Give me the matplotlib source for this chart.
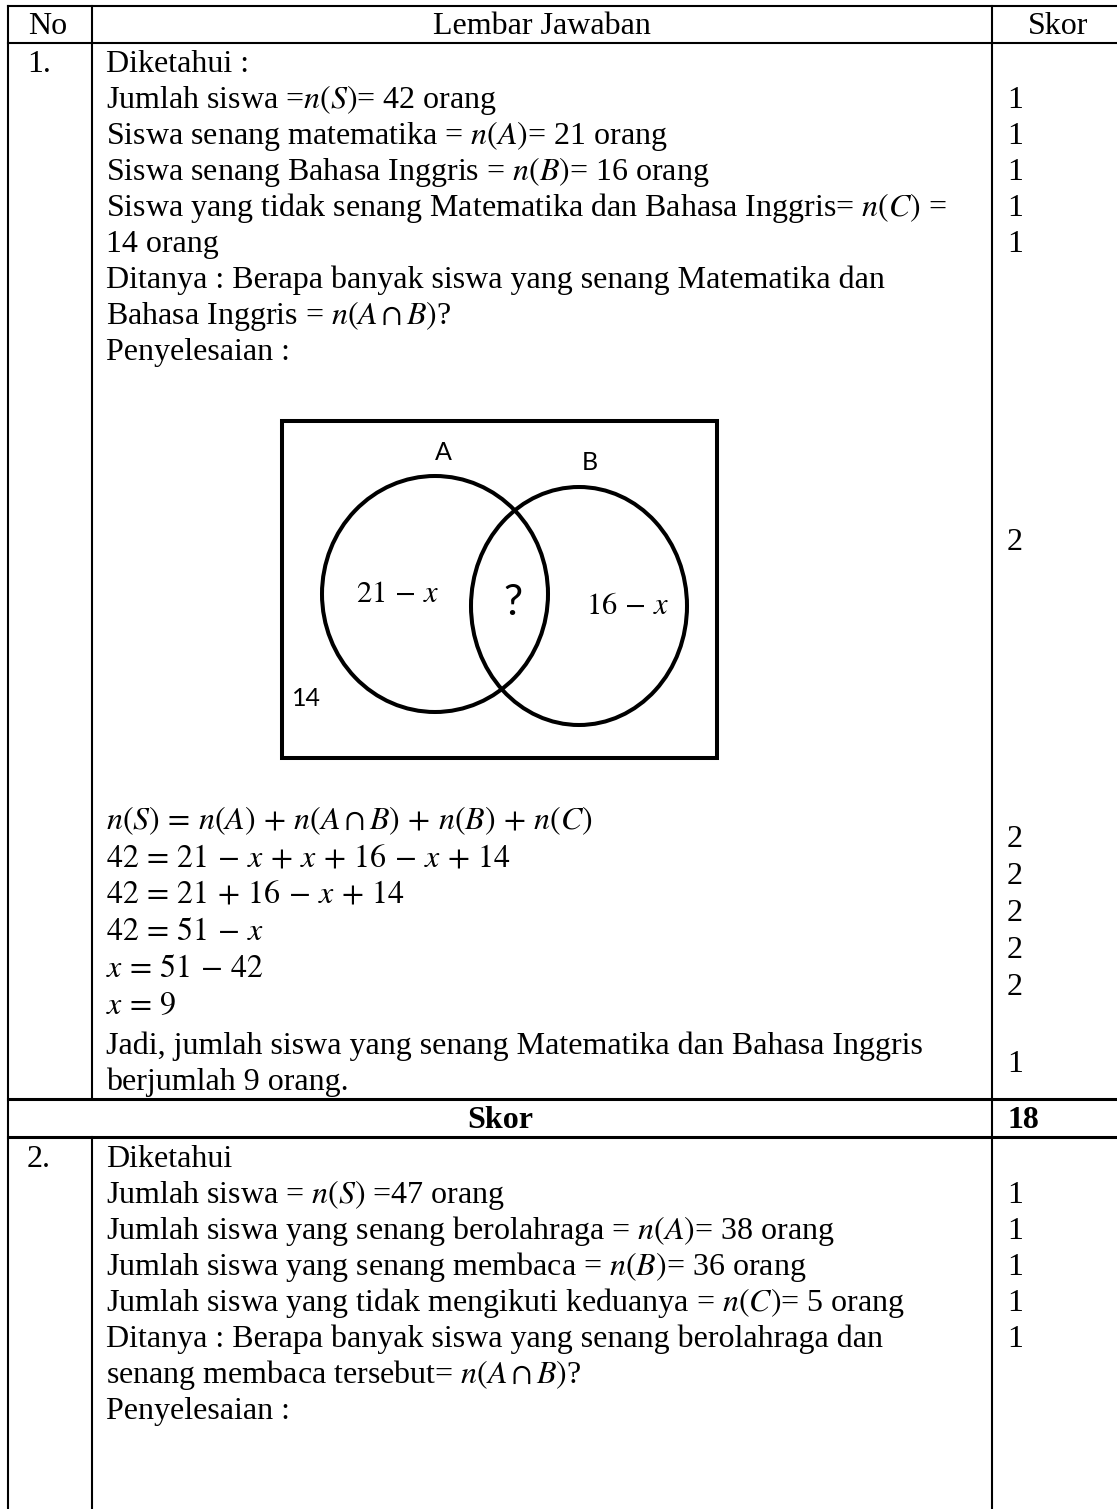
import matplotlib
matplotlib.use('Agg')
import matplotlib.pyplot as plt
from matplotlib.patches import Ellipse, Rectangle

plt.rcParams['mathtext.fontset'] = 'stix'
plt.rcParams['font.family'] = ['Liberation Serif', 'DejaVu Serif']

# table content
header = ['No', 'Lembar Jawaban', 'Skor']

q1_known = ['Diketahui :',
            r'Jumlah siswa =$n(S)$= 42 orang',
            r'Siswa senang matematika = $n(A)$= 21 orang',
            r'Siswa senang Bahasa Inggris = $n(B)$= 16 orang',
            r'Siswa yang tidak senang Matematika dan Bahasa Inggris= $n(C)$ =',
            '14 orang',
            'Ditanya : Berapa banyak siswa yang senang Matematika dan',
            r'Bahasa Inggris = $n(A \cap B)$?',
            'Penyelesaian :']
q1_known_scores = [None, 1, 1, 1, 1, 1, None, None, None]
q1_venn_score = 2

venn_sets = ['A', 'B']
venn_regions = [r'$21 - x$', '?', r'$16 - x$']
venn_outside = '14'

q1_steps = [r'$n(S) = n(A) + n(A \cap B) + n(B) + n(C)$',
            r'$42 = 21 - x + x + 16 - x + 14$',
            r'$42 = 21 + 16 - x + 14$',
            r'$42 = 51 - x$',
            r'$x = 51 - 42$',
            r'$x = 9$']
q1_step_scores = [2, 2, 2, 2, 2]
q1_conclusion = ['Jadi, jumlah siswa yang senang Matematika dan Bahasa Inggris',
                 'berjumlah 9 orang.']
q1_conclusion_score = 1
q1_total = 18

q2_known = ['Diketahui',
            r'Jumlah siswa = $n(S)$ =47 orang',
            r'Jumlah siswa yang senang berolahraga = $n(A)$= 38 orang',
            r'Jumlah siswa yang senang membaca = $n(B)$= 36 orang',
            r'Jumlah siswa yang tidak mengikuti keduanya = $n(C)$= 5 orang',
            'Ditanya : Berapa banyak siswa yang senang berolahraga dan',
            r'senang membaca tersebut= $n(A \cap B)$?',
            'Penyelesaian :']
q2_known_scores = [None, 1, 1, 1, 1, 1, None, None]


def spaced(s):
    # wider operator spacing, closer to Cambria Math
    for op in ('=', '+', '-'):
        s = s.replace(' %s ' % op, r'\,%s\,' % op)
    return s


W, H = 1117, 1509
fig = plt.figure(figsize=(W / 100, H / 100), dpi=100)
ax = fig.add_axes([0, 0, 1, 1])
ax.set_xlim(0, W)
ax.set_ylim(H, 0)
ax.axis('off')

fs = 23
line_h = 36
x_no, x_txt, x_sc = 27, 106, 1007
c1, c2 = 92, 992
left = 8
top, head_bot = 6, 43
skor_top, skor_bot = 1099, 1137

# grid lines
lw = 1.5
for y in (top, head_bot):
    ax.plot([left, W], [y, y], color='black', lw=lw)
for y in (skor_top, skor_bot):
    ax.plot([left, W], [y, y], color='black', lw=2.2)
ax.plot([left, left], [top, H], color='black', lw=lw)
ax.plot([c2, c2], [top, H], color='black', lw=lw)
ax.plot([c1, c1], [top, skor_top], color='black', lw=lw)
ax.plot([c1, c1], [skor_bot, H], color='black', lw=lw)

# header
ax.text(48, 34, header[0], fontsize=fs, ha='center', va='baseline')
ax.text((c1 + c2) / 2, 34, header[1], fontsize=fs, ha='center', va='baseline')
ax.text(1058, 34, header[2], fontsize=fs, ha='center', va='baseline')

# question 1
ax.text(x_no, 72, '1.', fontsize=fs, va='baseline')
for i, (line, sc) in enumerate(zip(q1_known, q1_known_scores)):
    y = 72 + i * line_h
    ax.text(x_txt, y, line, fontsize=fs, va='baseline')
    if sc is not None:
        ax.text(x_sc, y, str(sc), fontsize=fs, va='baseline')

# venn diagram
ax.add_patch(Rectangle((282, 421), 435, 337, fill=False, lw=2.9,
                       ec='black', joinstyle='miter'))
ax.add_patch(Ellipse((435, 594), 226, 236, fill=False, lw=2.9, ec='black'))
ax.add_patch(Ellipse((579, 606), 216, 238, fill=False, lw=2.9, ec='black'))
ax.text(443, 453, venn_sets[0], fontsize=18, family='Lato', ha='center', va='center')
ax.text(590, 462, venn_sets[1], fontsize=18, family='Lato', ha='center', va='center')
ax.text(398, 595, spaced(venn_regions[0]), fontsize=22, ha='center', va='center')
ax.text(513, 603, venn_regions[1], fontsize=31, family='Lato', ha='center', va='center')
ax.text(628, 607, spaced(venn_regions[2]), fontsize=22, ha='center', va='center')
ax.text(306, 698, venn_outside, fontsize=18, family='Lato', ha='center', va='center')
ax.text(x_sc, 550, str(q1_venn_score), fontsize=fs, va='baseline')

step_h = 37
for i, line in enumerate(q1_steps):
    ax.text(x_txt, 829 + i * step_h, spaced(line), fontsize=fs, va='baseline')
for i, sc in enumerate(q1_step_scores):
    ax.text(x_sc, 847 + i * step_h, str(sc), fontsize=fs, va='baseline')
for i, line in enumerate(q1_conclusion):
    ax.text(x_txt, 1054 + i * line_h, line, fontsize=fs, va='baseline')
ax.text(x_sc, 1072, str(q1_conclusion_score), fontsize=fs, va='baseline')

# total row
ax.text((left + c2) / 2, 1128, 'Skor', fontsize=fs, weight='bold', ha='center', va='baseline')
ax.text(x_sc, 1128, str(q1_total), fontsize=fs, weight='bold', va='baseline')

# question 2
ax.text(x_no, 1167, '2.', fontsize=fs, va='baseline')
for i, (line, sc) in enumerate(zip(q2_known, q2_known_scores)):
    y = 1167 + i * line_h
    ax.text(x_txt, y, line, fontsize=fs, va='baseline')
    if sc is not None:
        ax.text(x_sc, y, str(sc), fontsize=fs, va='baseline')

fig.savefig('out.png', dpi=100, facecolor='white')
